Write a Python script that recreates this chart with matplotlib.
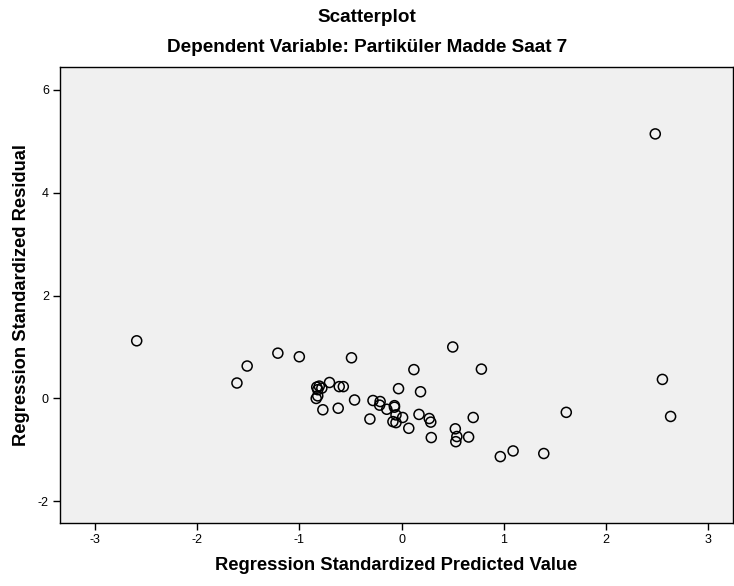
import matplotlib
matplotlib.use("Agg")
import matplotlib.pyplot as plt

# predicted (x) and residual (y)
pred = [-2.59, -1.61, -1.51, -1.21, -1.00, -0.49, -0.83, -0.805, -0.78, -0.82,
        -0.835, -0.82, -0.705, -0.61, -0.57, -0.77, -0.62, -0.46, -0.28, -0.21,
        -0.215, -0.145, -0.07, -0.07, -0.31, -0.055, 0.01, -0.085, -0.055, 0.07,
        -0.03, 0.185, 0.12, 0.50, 0.78, 0.17, 0.27, 0.285, 0.29, 0.70,
        0.525, 0.54, 0.53, 0.655, 0.965, 1.09, 1.39, 1.61, 2.48, 2.55, 2.63]
resid = [1.12, 0.30, 0.63, 0.88, 0.81, 0.79, 0.22, 0.24, 0.20, 0.17,
         0.00, 0.05, 0.31, 0.23, 0.23, -0.22, -0.19, -0.03, -0.04, -0.06,
         -0.13, -0.21, -0.14, -0.17, -0.40, -0.32, -0.37, -0.45, -0.47, -0.58,
         0.19, 0.13, 0.56, 1.00, 0.57, -0.31, -0.39, -0.46, -0.76, -0.37,
         -0.59, -0.74, -0.84, -0.75, -1.13, -1.02, -1.07, -0.27, 5.14, 0.37, -0.35]

xticks = [-3, -2, -1, 0, 1, 2, 3]
yticks = [-2, 0, 2, 4, 6]

plt.rcParams['font.family'] = ['Liberation Sans', 'DejaVu Sans']
plt.rcParams['axes.unicode_minus'] = False

fig = plt.figure(figsize=(7.34, 5.86), dpi=100)
ax = fig.add_axes([60 / 734, 63 / 586, 673 / 734, 456 / 586])
ax.set_facecolor('#f0f0f0')

ax.scatter(pred, resid, s=52, facecolors='none', edgecolors='black', linewidths=1.1, zorder=3)

ax.set_xlim(-3.34, 3.24)
ax.set_ylim(-2.42, 6.44)
ax.set_xticks(xticks)
ax.set_yticks(yticks)
ax.tick_params(direction='out', length=5, width=1, labelsize=9, colors='black', pad=3)
ax.tick_params(top=False, right=False)
for sp in ax.spines.values():
    sp.set_color('black')
    sp.set_linewidth(1)

ax.set_xlabel('Regression Standardized Predicted Value', fontsize=13.2, fontweight='bold', labelpad=8)
ax.set_ylabel('Regression Standardized Residual', fontsize=13.2, fontweight='bold', labelpad=6)

fig.text(0.5, 1 - 17 / 586, 'Scatterplot', ha='center', va='center', fontsize=13.6, fontweight='bold')
fig.text(0.5, 1 - 48 / 586, 'Dependent Variable: Partiküler Madde Saat 7', ha='center', va='center',
         fontsize=13.6, fontweight='bold')

fig.savefig('out.png', dpi=100)
